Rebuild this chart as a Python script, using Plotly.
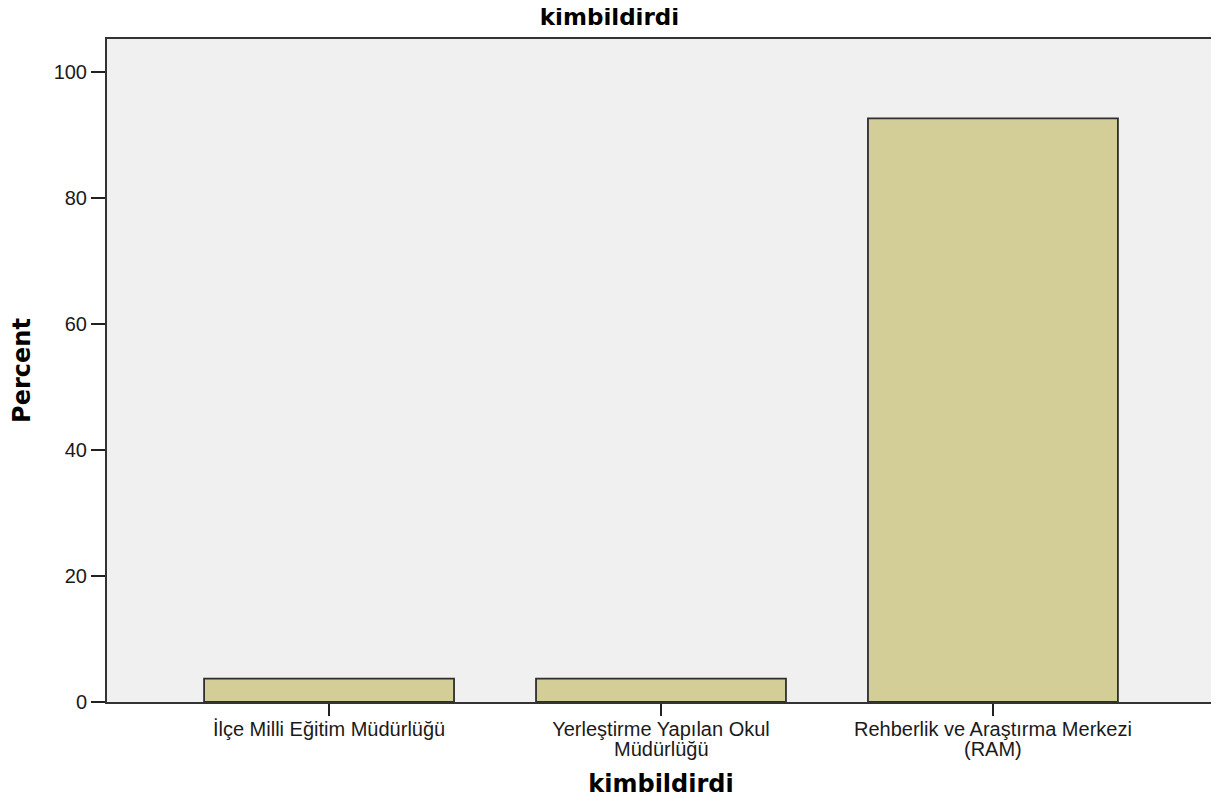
import plotly.graph_objects as go

categories = ["İlçe Milli Eğitim Müdürlüğü",
              "Yerleştirme Yapılan Okul Müdürlüğü",
              "Rehberlik ve Araştırma Merkezi (RAM)"]
tick_line1 = ["İlçe Milli Eğitim Müdürlüğü",
              "Yerleştirme Yapılan Okul",
              "Rehberlik ve Araştırma Merkezi"]
tick_line2 = ["", "Müdürlüğü", "(RAM)"]
percent = [3.7, 3.7, 92.6]
y_ticks = [0, 20, 40, 60, 80, 100]

fig = go.Figure(go.Bar(
    x=categories, y=percent, width=0.753,
    marker=dict(color="#D3CE97", line=dict(color="#2e2e2e", width=1.8)),
    hoverinfo="x+y",
))

font = "Liberation Sans, Arial, sans-serif"
bold = "DejaVu Sans, Verdana, sans-serif"
tick_font = dict(family=font, size=20, color="#1a1a1a")

for cat, line2 in zip(categories, tick_line2):
    if line2:
        fig.add_annotation(x=cat, y=0, xref="x", yref="y", text=line2,
                           showarrow=False, yanchor="top", yshift=-34,
                           font=tick_font)

fig.update_layout(
    width=1211, height=795,
    margin=dict(l=99, r=4, t=31, b=101, autoexpand=False),
    paper_bgcolor="white", plot_bgcolor="#F0F0F0",
    showlegend=False,
    font=dict(family=font, size=20, color="#1a1a1a"),
    title=dict(text="<b>kimbildirdi</b>", x=0.4967, xanchor="center",
               xref="container", y=0.999, yanchor="top", yref="container",
               pad=dict(t=0, b=0),
               font=dict(family=bold, size=23, color="#000000")),
    xaxis=dict(
        range=[-0.669, 2.669], showgrid=False, zeroline=False,
        tickvals=categories, ticktext=tick_line1,
        showline=True, linecolor="#333333", linewidth=2, mirror=True,
        ticks="outside", ticklen=12, tickcolor="#222222", tickwidth=2,
        ticklabelstandoff=-4,
        tickfont=tick_font,
        title=dict(text="<b>kimbildirdi</b>", standoff=36,
                   font=dict(family=bold, size=24, color="#000000")),
    ),
    yaxis=dict(
        range=[0, 105.2], tickvals=y_ticks, showgrid=False, zeroline=False,
        showline=True, linecolor="#333333", linewidth=2, mirror=True,
        ticks="outside", ticklen=14, tickcolor="#222222", tickwidth=2,
        tickfont=tick_font,
        title=dict(text="<b>Percent</b>", standoff=16,
                   font=dict(family=bold, size=24, color="#000000")),
    ),
)

fig.write_html("out.html")
